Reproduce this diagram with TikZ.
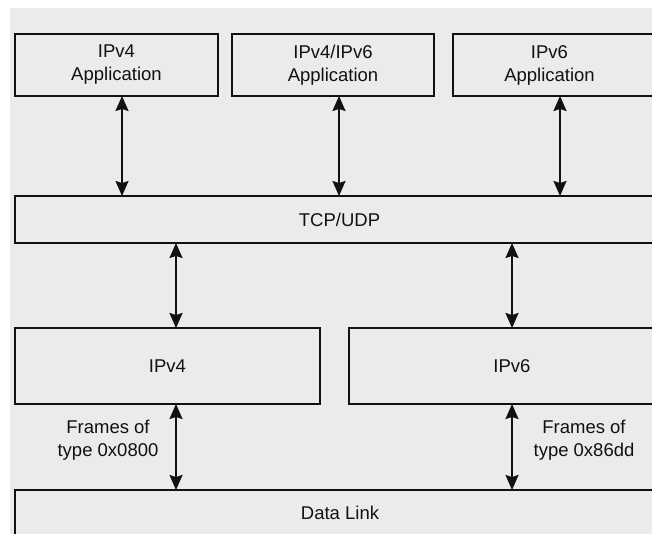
\documentclass[tikz,border=0pt]{standalone}
\usepackage{fontspec}
\setmainfont{Liberation Sans}
\usetikzlibrary{arrows.meta}
\definecolor{panel}{HTML}{EBEBEB}
\definecolor{ink}{HTML}{111111}
\begin{document}
\begin{tikzpicture}[x=1bp,y=-1bp,
  layer/.style={draw=ink, line width=1.9bp, fill=panel, rectangle,
    inner sep=0pt, outer sep=0pt, align=center,
    font=\fontsize{18.5bp}{23bp}\selectfont, text=ink},
  link/.style={draw=ink, line width=1.9bp,
    {Stealth[length=15bp,width=13bp,inset=2bp]}-{Stealth[length=15bp,width=13bp,inset=2bp]}},
  note/.style={align=center, inner sep=0pt,
    font=\fontsize{18.5bp}{23bp}\selectfont, text=ink}]
  \useasboundingbox (0,0) rectangle (652,534);
  \clip (0,0) rectangle (652,534);
  \fill[white] (0,0) rectangle (652,534);
  \fill[panel] (10,8) rectangle (652,534);

  % application layer
  \node[layer, minimum width=203bp, minimum height=62bp] (app4) at (116.5,65) {IPv4\\Application};
  \node[layer, minimum width=202bp, minimum height=62bp] (app46) at (333,65) {IPv4/IPv6\\Application};
  \node[layer, minimum width=203bp, minimum height=62bp] (app6) at (554.5,65) {\hspace*{-10bp}IPv6\\\hspace*{-10bp}Application};

  % transport layer
  \node[layer, minimum width=649bp, minimum height=47bp] (tcp) at (339.5,219.5) {TCP/UDP};

  % network layer
  \node[layer, minimum width=305bp, minimum height=76bp] (ip4) at (167.5,366) {IPv4};
  \node[layer, minimum width=326bp, minimum height=76bp] (ip6) at (512,366) {IPv6};

  % link layer
  \node[layer, minimum width=650bp, minimum height=46bp] (dl) at (340,513) {Data Link};

  % connectors between layers
  \draw[link] (app4.south -| 122,0) -- (tcp.north -| 122,0);
  \draw[link] (app46.south -| 339,0) -- (tcp.north -| 339,0);
  \draw[link] (app6.south -| 560,0) -- (tcp.north -| 560,0);
  \draw[link] (tcp.south -| 176,0) -- (ip4.north -| 176,0);
  \draw[link] (tcp.south -| 512,0) -- (ip6.north -| 512,0);
  \draw[link] (ip4.south -| 176,0) -- (dl.north -| 176,0);
  \draw[link] (ip6.south -| 512,0) -- (dl.north -| 512,0);

  % frame type labels
  \node[note] (fr4) at (108,440) {Frames of\\type 0x0800};
  \node[note] (fr6) at (584,440) {Frames of\\type 0x86dd};
\end{tikzpicture}
\end{document}
